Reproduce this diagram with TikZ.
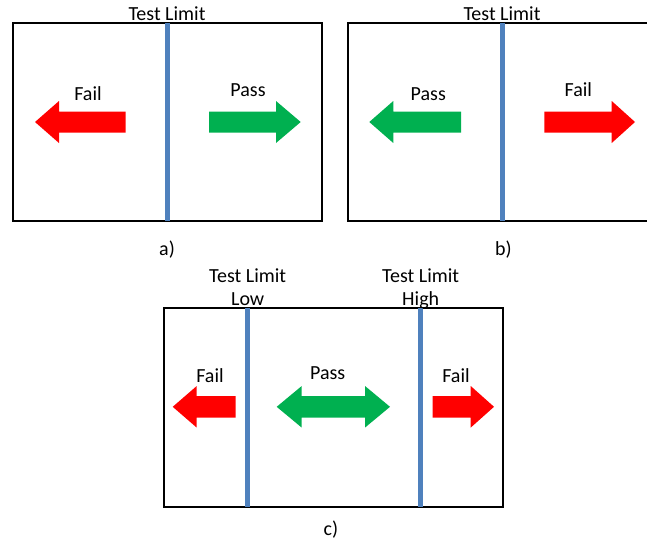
\documentclass[tikz,border=0pt]{standalone}
\usepackage{fontspec}
\setmainfont{Carlito}
\definecolor{limitblue}{HTML}{4F81BD}
\definecolor{failred}{HTML}{FF0000}
\definecolor{passgreen}{HTML}{00B050}
\begin{document}
\begin{tikzpicture}[x=1pt,y=-1pt,
  frame/.style={draw=black,line width=2pt},
  limit/.style={draw=limitblue,line width=5pt},
  failarrow/.style={fill=failred},
  passarrow/.style={fill=passgreen},
  lbl/.style={font=\fontsize{20}{22}\selectfont,anchor=base,inner sep=0pt}]
\useasboundingbox (0,0) rectangle (647,541);
% ---------- panel a ----------
\draw[frame] (12.7,22.7) rectangle (322,221);
\coordinate (aT) at (167.7,22.7);
\coordinate (aB) at (167.7,221);
\draw[limit] (aT) -- (aB);
\node[lbl] (atl) at (167,20) {Test Limit};
\node[lbl] (afail) at (88,100) {Fail};
\node[lbl] (apass) at (248,96.7) {Pass};
\node[lbl] (acap) at (167,255) {a)};
\fill[failarrow] (35,122) -- (59,101) -- (59,111.5) -- (125.7,111.5) -- (125.7,132.5) -- (59,132.5) -- (59,143) -- cycle;
\fill[passarrow] (209,111.5) -- (276,111.5) -- (276,101) -- (300.7,122) -- (276,143) -- (276,132.5) -- (209,132.5) -- cycle;
% ---------- panel b ----------
\draw[frame] (647,22.7) -| (347.7,221) -- (647,221);
\coordinate (bT) at (502.3,22.7);
\coordinate (bB) at (502.3,221);
\draw[limit] (bT) -- (bB);
\node[lbl] (btl) at (502,20) {Test Limit};
\node[lbl] (bpass) at (428.3,100) {Pass};
\node[lbl] (bfail) at (578.3,96.7) {Fail};
\node[lbl] (bcap) at (503.3,255) {b)};
\fill[passarrow] (369.3,122) -- (393.3,101) -- (393.3,111.5) -- (461,111.5) -- (461,132.5) -- (393.3,132.5) -- (393.3,143) -- cycle;
\fill[failarrow] (544.3,111.5) -- (611.7,111.5) -- (611.7,101) -- (635,122) -- (611.7,143) -- (611.7,132.5) -- (544.3,132.5) -- cycle;
% ---------- panel c ----------
\draw[frame] (164,308) rectangle (502.7,507);
\coordinate (cLT) at (247.3,308);
\coordinate (cLB) at (247.3,507);
\coordinate (cHT) at (420.7,308);
\coordinate (cHB) at (420.7,507);
\draw[limit] (cLT) -- (cLB);
\draw[limit] (cHT) -- (cHB);
\node[lbl] (ctl1) at (247.7,282.7) {Test Limit};
\node[lbl] (ctl2) at (247.7,305) {Low};
\node[lbl] (cth1) at (420.7,282.7) {Test Limit};
\node[lbl] (cth2) at (420.7,305) {High};
\node[lbl] (cfailL) at (210,382.7) {Fail};
\node[lbl] (cpass) at (327.7,379.3) {Pass};
\node[lbl] (cfailR) at (456,382.7) {Fail};
\node[lbl] (ccap) at (331,535) {c)};
\fill[failarrow] (172.7,406.8) -- (196.7,386) -- (196.7,396) -- (235.7,396) -- (235.7,417.6) -- (196.7,417.6) -- (196.7,427.6) -- cycle;
\fill[passarrow] (276.7,406.8) -- (301.7,386) -- (301.7,396) -- (365,396) -- (365,386) -- (390,406.8) -- (365,427.6) -- (365,417.6) -- (301.7,417.6) -- (301.7,427.6) -- cycle;
\fill[failarrow] (432.7,396) -- (470.7,396) -- (470.7,386) -- (494,406.8) -- (470.7,427.6) -- (470.7,417.6) -- (432.7,417.6) -- cycle;
\end{tikzpicture}
\end{document}
